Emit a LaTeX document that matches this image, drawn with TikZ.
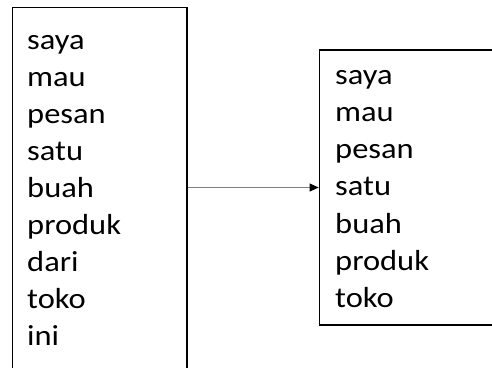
\documentclass[tikz,border=0pt]{standalone}
\usepackage{fontspec}
\setmainfont{Carlito}[FakeStretch=1.12]
\usetikzlibrary{arrows.meta}
\tikzset{
  box/.style={draw=black, line width=1.3bp, rectangle, inner sep=0pt},
  words/.style={inner sep=0pt, align=left, anchor=base west, text=black,
    font=\fontsize{29bp}{37.1bp}\selectfont},
  arr/.style={draw=gray, line width=1bp, -{Triangle[length=9bp,width=8bp,fill=black,color=black]}}
}
\begin{document}
\begin{tikzpicture}[x=1bp,y=-1bp]
\useasboundingbox (0,0) rectangle (492,367);
\clip (0,0) rectangle (492,367);
\node[box, minimum width=174.5bp, minimum height=393bp] (L) at (99.75,204) {};
\node[box, minimum width=240.7bp, minimum height=275bp] (R) at (439.65,187.5) {};
\node[words] (lt) at (27,345.8) {saya\\mau\\pesan\\satu\\buah\\produk\\dari\\toko\\ini};
\node[words] (rt) at (335,307.2) {saya\\mau\\pesan\\satu\\buah\\produk\\toko};
\draw[arr] (L.east |- R.west) -- (R.west);
\end{tikzpicture}
\end{document}
